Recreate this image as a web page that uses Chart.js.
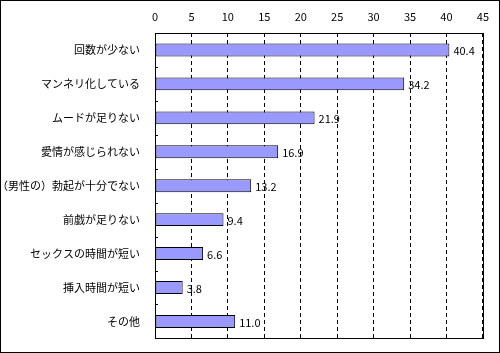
<!DOCTYPE html>
<html>
<head>
<meta charset="utf-8">
<script src="https://cdn.jsdelivr.net/npm/chart.js@4"></script>
<style>
  html, body { margin: 0; padding: 0; background: #fff; }
  #wrap { width: 498px; height: 351px; border: 1px solid #000; }
</style>
</head>
<body>
<div id="wrap"><canvas id="grafico" width="498" height="351"></canvas></div>
<script>
/* ================= DADOS ================= */
const categorias = [
  "回数が少ない",
  "マンネリ化している",
  "ムードが足りない",
  "愛情が感じられない",
  "（男性の）勃起が十分でない",
  "前戯が足りない",
  "セックスの時間が短い",
  "挿入時間が短い",
  "その他"
];
const valores = [40.4, 34.2, 21.9, 16.9, 13.2, 9.4, 6.6, 3.8, 11.0];
const eixoMin = 0;
const eixoMax = 45;
const eixoPasso = 5;

const fonte = "'Noto Sans CJK JP', 'Noto Sans', sans-serif";

/* ================= PLUGINS ================= */
// moldura da área do gráfico + pequenos traços entre categorias
const moldura = {
  id: "moldura",
  afterDraw(chart) {
    const { ctx, chartArea, scales } = chart;
    ctx.save();
    ctx.strokeStyle = "#000";
    ctx.lineWidth = 1;
    ctx.setLineDash([]);
    ctx.strokeRect(Math.round(chartArea.left) + 0.5, Math.round(chartArea.top) + 0.5,
      Math.round(chartArea.width), Math.round(chartArea.height));
    const y = scales.y;
    ctx.beginPath();
    for (let i = 1; i < categorias.length; i++) {
      const py = Math.round((y.getPixelForValue(i - 1) + y.getPixelForValue(i)) / 2) + 0.5;
      ctx.moveTo(chartArea.left, py);
      ctx.lineTo(chartArea.left + 3, py);
    }
    ctx.stroke();
    ctx.restore();
  }
};

// valores ao lado das barras
const rotulos = {
  id: "rotulos",
  afterDatasetsDraw(chart) {
    const { ctx } = chart;
    const meta = chart.getDatasetMeta(0);
    ctx.save();
    ctx.font = "11px " + fonte;
    ctx.fillStyle = "#000";
    ctx.textAlign = "left";
    ctx.textBaseline = "middle";
    meta.data.forEach((bar, i) => {
      ctx.fillText(valores[i].toFixed(1), bar.x + 4, bar.y + 1);
    });
    ctx.restore();
  }
};

/* ================= GRÁFICO ================= */
new Chart(document.getElementById("grafico"), {
  type: "bar",
  data: {
    labels: categorias,
    datasets: [{
      data: valores,
      backgroundColor: "#9999FF",
      borderColor: "#000",
      borderWidth: 1,
      borderSkipped: false,
      categoryPercentage: 1,
      barPercentage: 0.38
    }]
  },
  options: {
    indexAxis: "y",
    responsive: false,
    animation: false,
    layout: { padding: { top: 0, left: 0, right: 12, bottom: 4 } },
    plugins: {
      legend: { display: false },
      tooltip: { enabled: false }
    },
    scales: {
      x: {
        position: "top",
        min: eixoMin,
        max: eixoMax,
        afterFit: s => { s.height = 32; },
        ticks: {
          stepSize: eixoPasso,
          color: "#000",
          padding: 10,
          font: { family: fonte, size: 11 }
        },
        grid: {
          color: "#000",
          drawTicks: false,
          tickBorderDash: [4, 3]
        },
        border: { display: false, dash: [4, 3] }
      },
      y: {
        afterFit: s => { s.width = 154; },
        ticks: {
          color: "#000",
          padding: 7,
          font: { family: fonte, size: 11 }
        },
        grid: { display: false },
        border: { display: false }
      }
    }
  },
  plugins: [moldura, rotulos]
});
</script>
</body>
</html>
